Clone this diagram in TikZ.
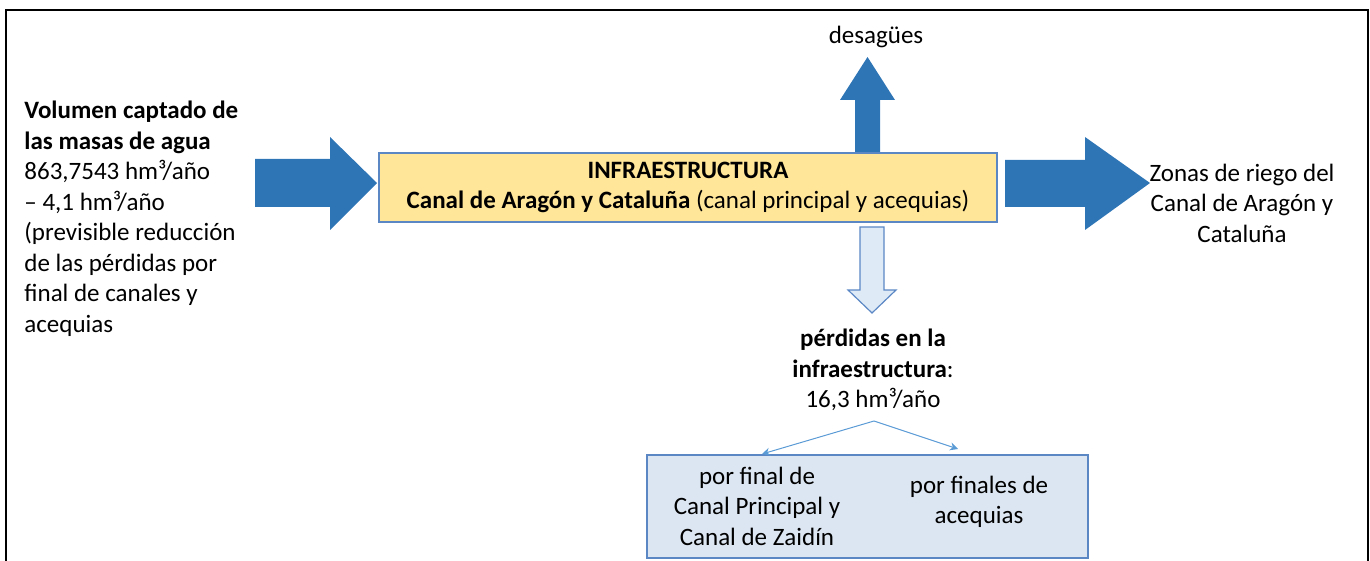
\documentclass[tikz,border=0pt]{standalone}
\usepackage{fontspec}
\setmainfont{Carlito}
\usetikzlibrary{arrows.meta}
\definecolor{flowblue}{HTML}{2E75B6}
\definecolor{edgeblue}{HTML}{5B87C5}
\definecolor{paleblue}{HTML}{DEEBF7}
\definecolor{boxblue}{HTML}{DCE6F2}
\definecolor{infrayellow}{HTML}{FFE699}
\definecolor{thinblue}{HTML}{5B9BD5}
\begin{document}
\begin{tikzpicture}[x=0.5pt, y=-0.5pt, >={Stealth[length=4pt, width=4pt]},
    every node/.style={font=\fontsize{12.5}{15.25}\selectfont, inner sep=0pt, align=center},
    infrabox/.style={draw=edgeblue, fill=infrayellow, line width=0.6pt, minimum width=309pt, minimum height=34.5pt},
    lossbox/.style={draw=edgeblue, fill=boxblue, line width=0.8pt, minimum width=220.5pt, minimum height=51.5pt},
    thinarrow/.style={->, thinblue, line width=0.5pt}]
    \useasboundingbox (0,0) rectangle (1370,561);
    \draw[line width=1.2pt] (6,561) -- (6,10) -- (1368,10) -- (1368,561);
    % block arrows
    \fill[flowblue] (255,159) -- (330,159) -- (330,137) -- (377,183) -- (330,230) -- (330,207) -- (255,207) -- cycle;
    \fill[flowblue] (1005,160) -- (1085,160) -- (1085,137) -- (1150,183) -- (1085,230) -- (1085,207) -- (1005,207) -- cycle;
    \fill[flowblue] (855,152) -- (855,100) -- (840,100) -- (867.5,57) -- (895,100) -- (880,100) -- (880,152) -- cycle;
    \draw[edgeblue, fill=paleblue, line width=0.6pt] (860,227) -- (884,227) -- (884,290) -- (896,290) -- (872,313) -- (848,290) -- (860,290) -- cycle;
    % texts
    \node[align=left, anchor=north west] (source) at (24,101) {\textbf{Volumen captado de}\\\textbf{las masas de agua}\\863,7543 hm³/año\\– 4,1 hm³/año\\(previsible reducción\\de las pérdidas por\\final de canales y\\acequias};
    \node[infrabox] (infra) at (688,187.5) {\textbf{INFRAESTRUCTURA}\\\textbf{Canal de Aragón y Cataluña} (canal principal y acequias)};
    \node (drain) at (876,37) {desagües};
    \node (zones) at (1242,203) {Zonas de riego del\\Canal de Aragón y\\Cataluña};
    \node (losses) at (873,370) {\textbf{pérdidas en la}\\\textbf{infraestructura}:\\16,3 hm³/año};
    \node[lossbox] (lossbox) at (867.5,506.5) {};
    \node (lossmain) at (757,506) {por final de\\Canal Principal y\\Canal de Zaidín};
    \node (lossditch) at (979,502) {por finales de\\acequias};
    % split of the losses
    \coordinate (split) at (874,421);
    \coordinate (splitL) at (762,454);
    \coordinate (splitR) at (958,449);
    \draw[thinarrow] (split) -- (splitL);
    \draw[thinarrow] (split) -- (splitR);
\end{tikzpicture}
\end{document}
